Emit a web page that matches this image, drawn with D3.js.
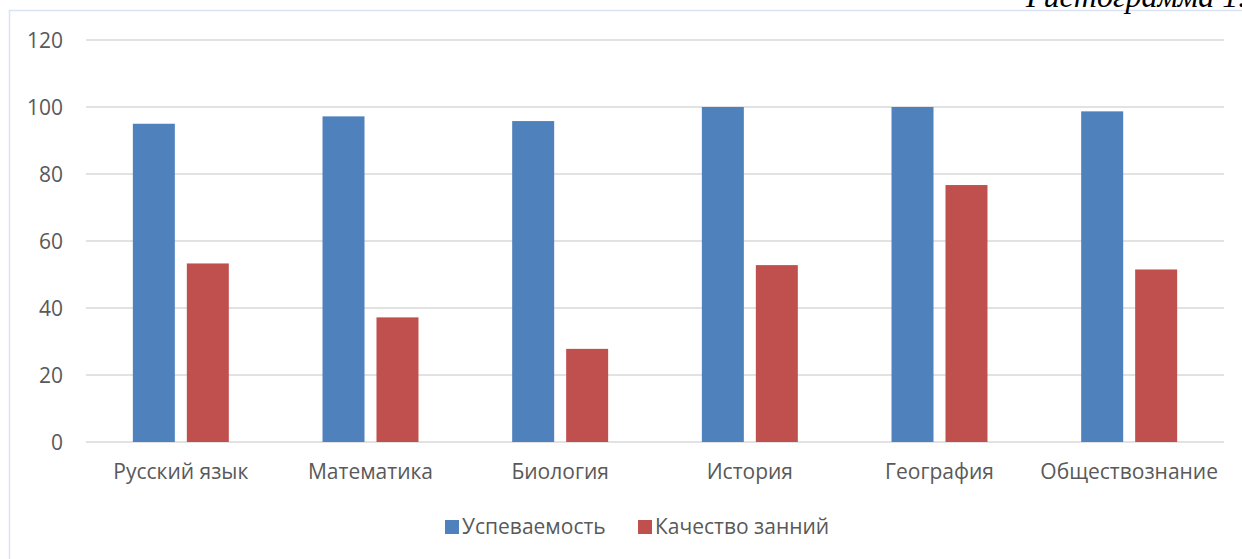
<!DOCTYPE html>
<html>
<head>
<meta charset="utf-8">
<script src="https://cdn.jsdelivr.net/npm/d3@7"></script>
<style>
  html, body { margin: 0; padding: 0; background: #fff; }
  svg { display: block; }
</style>
</head>
<body>
<svg id="chart" width="1242" height="559"></svg>
<script>
const categories = ["Русский язык", "Математика", "Биология", "История", "География", "Обществознание"];
const seriesNames = ["Успеваемость", "Качество занний"];
const uspevaemost = [95, 97.2, 95.8, 100, 100, 98.7];
const kachestvo = [53.3, 37.2, 27.8, 52.8, 76.7, 51.5];
const yTicks = [0, 20, 40, 60, 80, 100, 120];
const colors = ["#4f81bd", "#c0504d"];
const titleText = "Гистограмма 1.";

const svg = d3.select("#chart");
const W = 1242, H = 559;
const plot = { left: 86, right: 1224, top: 40, bottom: 442 };
const font = "'Open Sans', 'Noto Sans', sans-serif";
const textColor = "#595959";

// outer frame
svg.append("rect")
  .attr("x", 9.5).attr("y", 10.5)
  .attr("width", W + 20).attr("height", H + 20)
  .attr("fill", "#fff").attr("stroke", "#dae3f3").attr("stroke-width", 1.5);

// title (cut off at top right, as in the source)
svg.append("text")
  .attr("x", 1026).attr("y", 7)
  .attr("text-anchor", "start")
  .attr("font-family", "'Liberation Serif', 'DejaVu Serif', serif")
  .attr("font-style", "italic")
  .attr("font-size", 32)
  .attr("fill", "#000")
  .text(titleText);

const y = d3.scaleLinear().domain([0, 120]).range([plot.bottom, plot.top]);
const x0 = d3.scaleBand().domain(categories).range([plot.left, plot.right]).paddingInner(0).paddingOuter(0);
const groupFrac = 0.506;
const x1 = d3.scaleBand().domain(seriesNames)
  .range([x0.bandwidth() * (1 - groupFrac) / 2, x0.bandwidth() * (1 + groupFrac) / 2])
  .paddingInner(0.222);

// gridlines
svg.append("g").selectAll("line").data(yTicks).join("line")
  .attr("x1", plot.left).attr("x2", plot.right)
  .attr("y1", d => y(d)).attr("y2", d => y(d))
  .attr("stroke", "#d9d9d9").attr("stroke-width", 1.5);

// y tick labels
svg.append("g").selectAll("text").data(yTicks).join("text")
  .attr("x", 63).attr("y", d => y(d))
  .attr("dy", "0.36em")
  .attr("text-anchor", "end")
  .attr("font-family", font).attr("font-size", 21)
  .attr("fill", textColor)
  .text(d => d);

// bars
const data = categories.map((c, i) => ({ c, vals: [uspevaemost[i], kachestvo[i]] }));
const groups = svg.append("g").selectAll("g").data(data).join("g")
  .attr("transform", d => `translate(${x0(d.c)},0)`);
groups.selectAll("rect").data(d => d.vals.map((v, j) => ({ v, s: seriesNames[j], j })))
  .join("rect")
  .attr("x", d => x1(d.s))
  .attr("width", x1.bandwidth())
  .attr("y", d => y(d.v))
  .attr("height", d => y(0) - y(d.v))
  .attr("fill", d => colors[d.j]);

// category labels
svg.append("g").selectAll("text").data(categories).join("text")
  .attr("x", d => x0(d) + x0.bandwidth() / 2)
  .attr("y", 479)
  .attr("text-anchor", "middle")
  .attr("font-family", font).attr("font-size", 21)
  .attr("fill", textColor)
  .text(d => d);

// legend
const legendX = [445, 638];
const lg = svg.append("g").selectAll("g").data(seriesNames).join("g")
  .attr("transform", (d, i) => `translate(${legendX[i]},520)`);
lg.append("rect").attr("width", 14).attr("height", 14).attr("fill", (d, i) => colors[i]);
lg.append("text").attr("x", 17).attr("y", 14)
  .attr("font-family", font).attr("font-size", 21)
  .attr("fill", textColor)
  .text(d => d);
</script>
</body>
</html>
